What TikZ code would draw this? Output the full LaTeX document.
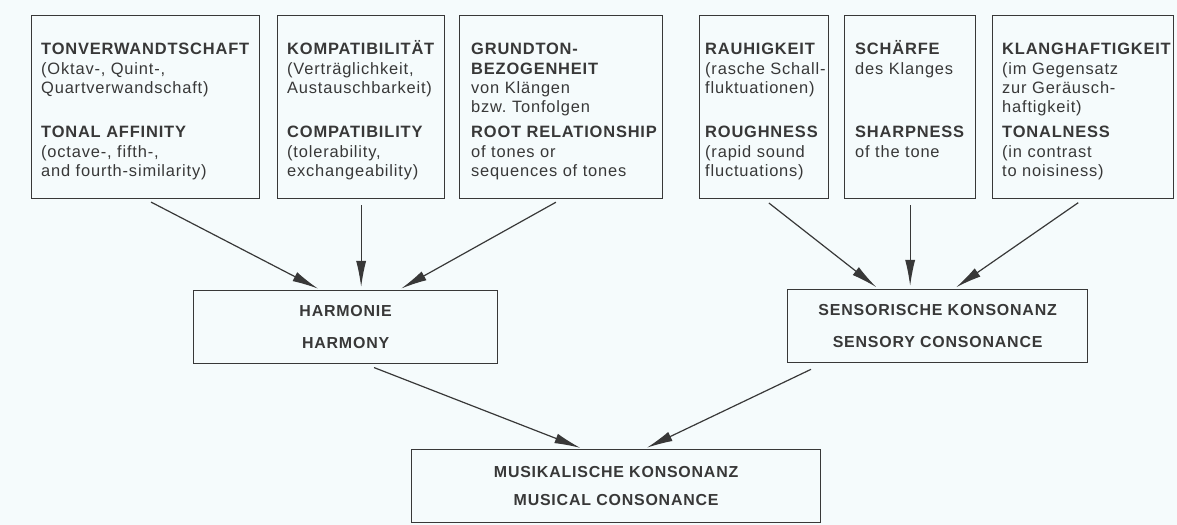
\documentclass[tikz,border=0pt]{standalone}
\usepackage{fontspec}
\setmainfont[LetterSpace=5]{Liberation Sans}
\usetikzlibrary{arrows.meta}

\definecolor{paper}{HTML}{F5FBFC}
\definecolor{ink}{HTML}{383838}

\frenchspacing
\begin{document}
\begin{tikzpicture}[x=1bp, y=-1bp,
	every node/.style={text=ink},
	termbox/.style={draw=ink, line width=1.3bp, anchor=north west, inner sep=0pt, minimum height=183bp},
	termtext/.style={anchor=base west, inner sep=0pt, align=left, text width=220bp, font=\fontsize{16.5}{19.3}\selectfont},
	sumbox/.style={draw=ink, line width=1.3bp, anchor=north west, inner sep=0pt, minimum height=73bp, align=center, font=\fontsize{16}{18}\selectfont\bfseries},
	arr/.style={draw=ink, line width=1.2bp, -{Latex[length=26bp,width=10bp]}, shorten <=6bp, shorten >=3bp}]
	\useasboundingbox (0,0) rectangle (1177,525);
	\fill[paper] (0,0) rectangle (1177,525);
	% upper row: the six attributes
	\node[termbox, minimum width=228bp] (ton) at (31,15) {};
	\node[termbox, minimum width=167bp] (komp) at (277,15) {};
	\node[termbox, minimum width=203bp] (grund) at (459,15) {};
	\node[termbox, minimum width=129bp] (rauh) at (699,15) {};
	\node[termbox, minimum width=131bp] (schaerfe) at (844,15) {};
	\node[termbox, minimum width=181bp] (klang) at (992,15) {};
	\node[termtext] (ton-de) at ([xshift=10bp,yshift=-40bp]ton.north west) {\textbf{TONVERWANDTSCHAFT}\\(Oktav-, Quint-,\\Quartverwandschaft)};
	\node[termtext] (ton-en) at ([xshift=10bp,yshift=-123bp]ton.north west) {\textbf{TONAL AFFINITY}\\(octave-, fifth-,\\and fourth-similarity)};
	\node[termtext] (komp-de) at ([xshift=10bp,yshift=-40bp]komp.north west) {\textbf{KOMPATIBILITÄT}\\(Verträglichkeit,\\Austauschbarkeit)};
	\node[termtext] (komp-en) at ([xshift=10bp,yshift=-123bp]komp.north west) {\textbf{COMPATIBILITY}\\(tolerability,\\exchangeability)};
	\node[termtext] (grund-de) at ([xshift=12bp,yshift=-40bp]grund.north west) {\textbf{GRUNDTON-}\\\textbf{BEZOGENHEIT}\\von Klängen\\bzw. Tonfolgen};
	\node[termtext] (grund-en) at ([xshift=12bp,yshift=-123bp]grund.north west) {\textbf{ROOT RELATIONSHIP}\\of tones or\\sequences of tones};
	\node[termtext] (rauh-de) at ([xshift=6bp,yshift=-40bp]rauh.north west) {\textbf{RAUHIGKEIT}\\(rasche Schall-\\fluktuationen)};
	\node[termtext] (rauh-en) at ([xshift=6bp,yshift=-123bp]rauh.north west) {\textbf{ROUGHNESS}\\(rapid sound\\fluctuations)};
	\node[termtext] (schaerfe-de) at ([xshift=11bp,yshift=-40bp]schaerfe.north west) {\textbf{SCHÄRFE}\\des Klanges};
	\node[termtext] (schaerfe-en) at ([xshift=11bp,yshift=-123bp]schaerfe.north west) {\textbf{SHARPNESS}\\of the tone};
	\node[termtext] (klang-de) at ([xshift=10bp,yshift=-40bp]klang.north west) {\textbf{KLANGHAFTIGKEIT}\\(im Gegensatz\\zur Geräusch-\\haftigkeit)};
	\node[termtext] (klang-en) at ([xshift=10bp,yshift=-123bp]klang.north west) {\textbf{TONALNESS}\\(in contrast\\to noisiness)};
	% middle and bottom row
	\node[sumbox, minimum width=304bp] (harm) at (193,290) {HARMONIE\\[14bp]HARMONY};
	\node[sumbox, minimum width=300bp] (sens) at (787,289) {SENSORISCHE KONSONANZ\\[14bp]SENSORY CONSONANCE};
	\node[sumbox, minimum width=409bp] (mus) at (411,449) {MUSIKALISCHE KONSONANZ\\[10bp]MUSICAL CONSONANCE};
	% arrows
	\draw[arr] (ton.south) -- ([xshift=-25bp]harm.north);
	\draw[arr] (komp.south) -- (komp.south |- harm.north);
	\draw[arr] (grund.south) -- ([xshift=53bp]harm.north);
	\draw[arr] (rauh.south) -- ([xshift=-59bp]sens.north);
	\draw[arr] (schaerfe.south) -- (schaerfe.south |- sens.north);
	\draw[arr] (klang.south) -- ([xshift=16bp]sens.north);
	\draw[arr, shorten <=9bp] ([xshift=20bp]harm.south) -- ([xshift=-33bp]mus.north);
	\draw[arr, shorten <=14bp] ([xshift=-114bp]sens.south) -- ([xshift=28bp]mus.north);
\end{tikzpicture}
\end{document}
